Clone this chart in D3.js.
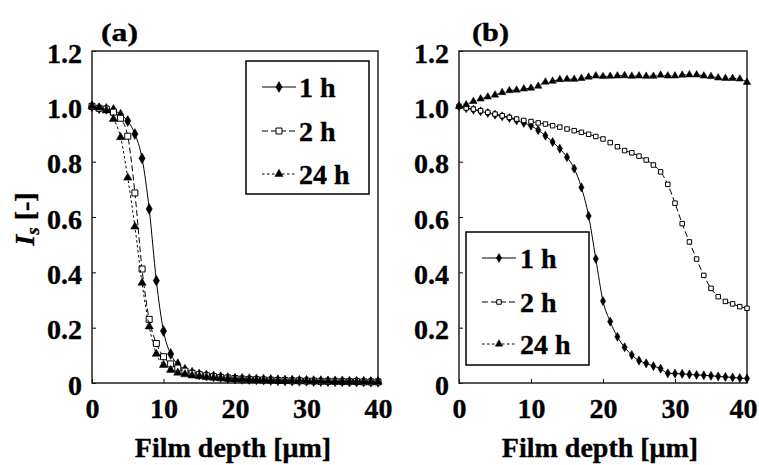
<!DOCTYPE html>
<html>
<head>
<meta charset="utf-8">
<script src="https://cdn.jsdelivr.net/npm/d3@7"></script>
<style>
  html, body { margin: 0; padding: 0; background: #fff; }
  svg { display: block; }
  text { font-family: "Liberation Serif", "Times New Roman", serif; font-weight: bold; fill: #000; }
</style>
</head>
<body>
<svg id="chart" width="759" height="465"></svg>
<script>
// ---- data ----
const depth = d3.range(0, 41); // film depth [µm], 1 µm steps
const seriesNames = ["1 h", "2 h", "24 h"];
const yTicks = [0, 0.2, 0.4, 0.6, 0.8, 1.0, 1.2];
const xTicks = [0, 10, 20, 30, 40];

const a1h = [1.0, 0.993, 0.991, 0.987, 0.970, 0.947, 0.900, 0.812, 0.629, 0.370, 0.188, 0.105, 0.068, 0.048, 0.037, 0.031, 0.027, 0.024, 0.021, 0.018, 0.016, 0.015, 0.014, 0.013, 0.012, 0.011, 0.010, 0.009, 0.009, 0.008, 0.008, 0.007, 0.007, 0.006, 0.006, 0.006, 0.005, 0.005, 0.005, 0.004, 0.004];
const a2h = [1.0, 0.993, 0.990, 0.979, 0.957, 0.892, 0.687, 0.412, 0.230, 0.143, 0.095, 0.069, 0.054, 0.043, 0.035, 0.030, 0.026, 0.023, 0.020, 0.018, 0.016, 0.014, 0.013, 0.012, 0.011, 0.010, 0.009, 0.009, 0.008, 0.008, 0.007, 0.007, 0.006, 0.006, 0.006, 0.005, 0.005, 0.005, 0.004, 0.004, 0.004];
const a24h = [1.0, 0.995, 0.985, 0.954, 0.888, 0.742, 0.565, 0.362, 0.204, 0.105, 0.065, 0.047, 0.037, 0.031, 0.027, 0.024, 0.021, 0.019, 0.017, 0.015, 0.014, 0.013, 0.012, 0.011, 0.010, 0.009, 0.009, 0.008, 0.008, 0.007, 0.007, 0.006, 0.006, 0.006, 0.005, 0.005, 0.005, 0.004, 0.004, 0.004, 0.004];

const b1h = [1.0, 0.993, 0.988, 0.982, 0.976, 0.970, 0.964, 0.958, 0.949, 0.940, 0.930, 0.914, 0.894, 0.871, 0.847, 0.816, 0.775, 0.707, 0.604, 0.449, 0.296, 0.222, 0.167, 0.129, 0.101, 0.081, 0.071, 0.061, 0.052, 0.035, 0.034, 0.033, 0.031, 0.029, 0.028, 0.026, 0.024, 0.022, 0.020, 0.018, 0.016];
const b2h = [1.0, 0.994, 0.990, 0.984, 0.978, 0.972, 0.966, 0.960, 0.954, 0.949, 0.945, 0.940, 0.936, 0.930, 0.925, 0.918, 0.912, 0.906, 0.899, 0.891, 0.882, 0.869, 0.854, 0.840, 0.832, 0.820, 0.806, 0.788, 0.763, 0.718, 0.650, 0.576, 0.510, 0.448, 0.389, 0.342, 0.312, 0.295, 0.286, 0.276, 0.270];
const b24h = [1.0, 1.006, 1.018, 1.027, 1.034, 1.041, 1.050, 1.057, 1.059, 1.063, 1.066, 1.073, 1.088, 1.091, 1.097, 1.098, 1.098, 1.101, 1.106, 1.110, 1.108, 1.109, 1.110, 1.111, 1.109, 1.110, 1.109, 1.109, 1.113, 1.110, 1.110, 1.113, 1.114, 1.114, 1.110, 1.108, 1.103, 1.101, 1.101, 1.099, 1.087];

// ---- drawing ----
const svg = d3.select("#chart");
const FS = 28;
const TXT_STROKE = 0.35;

const styles = [
  { sym: d3.symbolDiamond, fill: "#000", dash: null },
  { sym: d3.symbolSquare, fill: "#fff", dash: "6,3" },
  { sym: d3.symbolTriangle, fill: "#000", dash: "2.5,2.5" }
];

function boldText(sel) {
  return sel.attr("stroke", "#000").attr("stroke-width", TXT_STROKE);
}

function panel(cfg) {
  const x = d3.scaleLinear().domain([0, 40]).range([cfg.left, cfg.right]);
  const y = d3.scaleLinear().domain([0, 1.2]).range([cfg.bottom, cfg.top]);
  const g = svg.append("g");

  // axes with inward ticks
  const yAxis = d3.axisLeft(y).tickValues(yTicks).tickSize(-4).tickPadding(10)
    .tickFormat(d => d === 0 ? "0" : d3.format(".1f")(d));
  const xAxis = d3.axisBottom(x).tickValues(xTicks).tickSize(-4).tickPadding(15)
    .tickFormat(d3.format("d"));
  const gy = g.append("g").attr("transform", `translate(${cfg.left},0)`).call(yAxis);
  const gx = g.append("g").attr("transform", `translate(0,${cfg.bottom})`).call(xAxis);
  [gy, gx].forEach(a => {
    a.select(".domain").remove();
    a.selectAll(".tick line").attr("stroke", "#000").attr("stroke-width", 1);
    boldText(a.selectAll(".tick text").attr("font-size", FS)
      .attr("font-family", "'Liberation Serif', 'Times New Roman', serif")
      .attr("font-weight", "bold").attr("fill", "#000"));
  });
  gy.selectAll(".tick text").attr("dy", "0.40em");
  if (cfg.lastShift) {
    gx.selectAll(".tick text").filter(d => d === 40).attr("dx", cfg.lastShift);
  }

  // frame
  g.append("rect").attr("x", cfg.left).attr("y", cfg.top)
    .attr("width", cfg.right - cfg.left).attr("height", cfg.bottom - cfg.top)
    .attr("fill", "none").attr("stroke", "#222").attr("stroke-width", 1.5);

  // series
  const line = d3.line().x((d, i) => x(depth[i])).y(d => y(d)).curve(d3.curveMonotoneX);
  cfg.series.forEach((vals, k) => {
    const st = styles[k];
    g.append("path").datum(vals).attr("d", line)
      .attr("fill", "none").attr("stroke", "#000").attr("stroke-width", 1)
      .attr("stroke-dasharray", st.dash);
    g.append("g").selectAll("path").data(vals).join("path")
      .attr("transform", (d, i) => `translate(${x(depth[i])},${y(d)})`)
      .attr("d", d3.symbol().type(st.sym).size(cfg.msize[k]))
      .attr("fill", st.fill).attr("stroke", "#000").attr("stroke-width", k === 1 ? 1 : 0.5);
  });

  // legend
  const L = cfg.legend;
  g.append("rect").attr("x", L.x0).attr("y", L.y0).attr("width", L.x1 - L.x0).attr("height", L.y1 - L.y0)
    .attr("fill", "#fff").attr("stroke", "#000").attr("stroke-width", 1.5);
  seriesNames.forEach((name, k) => {
    const st = styles[k];
    const cy = L.rows[k];
    g.append("line").attr("x1", L.lx0).attr("x2", L.lx1).attr("y1", cy).attr("y2", cy)
      .attr("stroke", "#000").attr("stroke-width", 1).attr("stroke-dasharray", st.dash);
    g.append("path").attr("transform", `translate(${(L.lx0 + L.lx1) / 2},${cy})`)
      .attr("d", d3.symbol().type(st.sym).size(cfg.msize[k]))
      .attr("fill", st.fill).attr("stroke", "#000").attr("stroke-width", k === 1 ? 1 : 0.5);
    boldText(g.append("text").attr("x", L.tx).attr("y", cy).attr("dy", "0.34em")
      .attr("font-size", FS).text(name));
  });

  // panel label
  boldText(g.append("text").attr("x", cfg.labelX).attr("y", 41).attr("font-size", 25)
    .attr("textLength", 37).attr("lengthAdjust", "spacingAndGlyphs").text(cfg.label));

  // x title
  boldText(g.append("text").attr("x", (cfg.left + cfg.right) / 2 - cfg.titleShift).attr("y", 457)
    .attr("text-anchor", "middle").attr("font-size", FS).text("Film depth [μm]"));
}

panel({
  left: 92, right: 378, top: 51, bottom: 383,
  series: [a1h, a2h, a24h], msize: [34, 36, 30],
  legend: { x0: 246, x1: 369, y0: 61, y1: 194, lx0: 262, lx1: 296, tx: 299, rows: [87, 131, 174] },
  label: "(a)", labelX: 101, titleShift: 2, lastShift: 0
});
panel({
  left: 459, right: 747, top: 51, bottom: 383,
  series: [b1h, b2h, b24h], msize: [24, 20, 24],
  legend: { x0: 466, x1: 589, y0: 232, y1: 365, lx0: 482, lx1: 516, tx: 520, rows: [258, 302, 344] },
  label: "(b)", labelX: 472, titleShift: 3, lastShift: -4
});

// y title (rotated)
const yt = boldText(svg.append("text").attr("transform", "translate(34,219) rotate(-90)")
  .attr("text-anchor", "middle").attr("font-size", FS));
yt.append("tspan").attr("font-style", "italic").text("I");
yt.append("tspan").attr("font-style", "italic").attr("font-size", 19).attr("dy", 5).text("s");
yt.append("tspan").attr("dy", -5).text(" [-]");
</script>
</body>
</html>
